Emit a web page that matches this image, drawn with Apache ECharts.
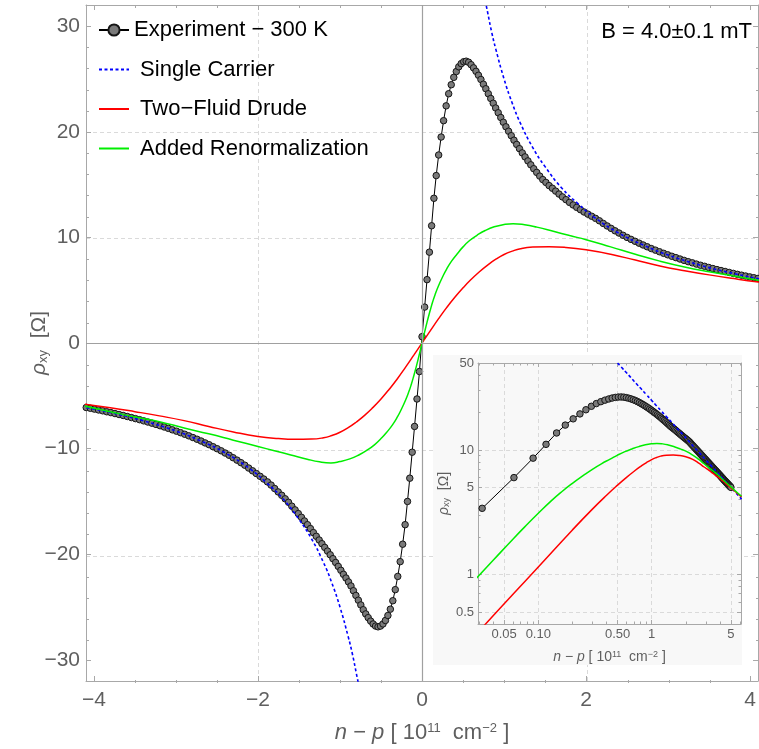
<!DOCTYPE html>
<html>
<head>
<meta charset="utf-8">
<script src="https://cdn.jsdelivr.net/npm/echarts@6/dist/echarts.min.js"></script>
<style>
  html, body { margin: 0; padding: 0; background: #ffffff; }
  #chart { width: 759px; height: 749px; }
</style>
</head>
<body>
<div id="chart"></div>
<script>
// ---- Measured Hall resistivity, 300 K (n - p in 1e11 cm^-2, rho_xy in Ohm) ----
const expPosX = [
  0.000, 0.032, 0.061, 0.090, 0.117, 0.145, 0.173, 0.203, 0.233, 0.263,
  0.294, 0.325, 0.356, 0.387, 0.418, 0.448, 0.478, 0.508, 0.538, 0.568,
  0.598, 0.628, 0.658, 0.688, 0.718, 0.748, 0.778, 0.808, 0.838, 0.868,
  0.898, 0.929, 0.960, 0.991, 1.023, 1.055, 1.088, 1.121, 1.154, 1.188,
  1.222, 1.256, 1.291, 1.326, 1.362, 1.398, 1.435, 1.472, 1.510, 1.549,
  1.589, 1.629, 1.670, 1.712, 1.755, 1.798, 1.842, 1.886, 1.931, 1.976,
  2.022, 2.068, 2.115, 2.162, 2.209, 2.257, 2.305, 2.353, 2.401, 2.450,
  2.499, 2.548, 2.597, 2.646, 2.695, 2.745, 2.795, 2.845, 2.895, 2.945,
  2.995, 3.045, 3.095, 3.145, 3.195, 3.245, 3.295, 3.345, 3.395, 3.445,
  3.495, 3.545, 3.595, 3.645, 3.695, 3.745, 3.795, 3.845, 3.895, 3.945,
  3.995, 4.045, 4.095, 4.145, 4.195, 4.245, 4.295, 4.345, 4.395, 4.445,
  4.495, 4.545, 4.595, 4.645, 4.695, 4.745, 4.795, 4.845, 4.895, 4.945,
  4.995
];
const expPosY = [
  0.6, 3.4, 6.0, 8.6, 11.1, 13.7, 15.85, 17.8, 19.5, 21.05,
  22.45, 23.6, 24.45, 25.15, 25.7, 26.15, 26.45, 26.63, 26.68, 26.58,
  26.35, 26.05, 25.72, 25.35, 24.95, 24.5, 24.07, 23.6, 23.15, 22.7,
  22.25, 21.8, 21.35, 20.9, 20.47, 20.05, 19.63, 19.2, 18.8, 18.4,
  18.0, 17.62, 17.24, 16.87, 16.5, 16.15, 15.8, 15.47, 15.2, 14.9,
  14.65, 14.38, 14.1, 13.83, 13.57, 13.31, 13.07, 12.84, 12.62, 12.4,
  12.2, 12.0, 11.8, 11.57, 11.32, 11.08, 10.85, 10.62, 10.41, 10.2,
  10.0, 9.81, 9.63, 9.45, 9.28, 9.11, 8.94, 8.79, 8.64, 8.49,
  8.35, 8.21, 8.08, 7.95, 7.82, 7.70, 7.59, 7.47, 7.36, 7.26,
  7.15, 7.05, 6.95, 6.86, 6.77, 6.68, 6.59, 6.50, 6.42, 6.34,
  6.26, 6.18, 6.11, 6.03, 5.96, 5.89, 5.82, 5.75, 5.69, 5.62,
  5.56, 5.50, 5.44, 5.38, 5.32, 5.27, 5.21, 5.16, 5.11, 5.06,
  5.01
];
const expNegX = [
  -0.031, -0.061, -0.091, -0.120, -0.149, -0.177, -0.206, -0.236, -0.266, -0.296,
  -0.326, -0.356, -0.386, -0.416, -0.446, -0.476, -0.506, -0.536, -0.566, -0.596,
  -0.626, -0.656, -0.686, -0.716, -0.746, -0.776, -0.806, -0.836, -0.866, -0.896,
  -0.927, -0.958, -0.989, -1.021, -1.053, -1.086, -1.119, -1.152, -1.186, -1.220,
  -1.254, -1.289, -1.324, -1.360, -1.396, -1.433, -1.470, -1.508, -1.547, -1.587,
  -1.627, -1.668, -1.710, -1.753, -1.796, -1.840, -1.884, -1.929, -1.974, -2.020,
  -2.066, -2.113, -2.160, -2.207, -2.255, -2.303, -2.351, -2.399, -2.448, -2.497,
  -2.546, -2.595, -2.644, -2.693, -2.743, -2.793, -2.843, -2.893, -2.943, -2.993,
  -3.043, -3.093, -3.143, -3.193, -3.243, -3.293, -3.343, -3.393, -3.443, -3.493,
  -3.543, -3.593, -3.643, -3.693, -3.743, -3.793, -3.843, -3.893, -3.943, -3.993,
  -4.043, -4.093, -4.143
];
const expNegY = [
  -2.7, -5.3, -7.9, -10.34, -12.8, -15.0, -17.2, -19.05, -20.7, -22.1,
  -23.35, -24.4, -25.2, -25.8, -26.27, -26.6, -26.8, -26.87, -26.8, -26.6,
  -26.33, -26.0, -25.65, -25.25, -24.8, -24.35, -23.9, -23.45, -23.0, -22.62,
  -22.25, -21.9, -21.52, -21.15, -20.78, -20.42, -20.05, -19.7, -19.35, -19.0,
  -18.65, -18.3, -17.95, -17.57, -17.2, -16.85, -16.5, -16.15, -15.8, -15.45,
  -15.08, -14.75, -14.42, -14.1, -13.78, -13.45, -13.15, -12.88, -12.62, -12.36,
  -12.1, -11.84, -11.57, -11.33, -11.09, -10.86, -10.63, -10.42, -10.21, -10.01,
  -9.82, -9.63, -9.46, -9.28, -9.11, -8.95, -8.79, -8.64, -8.49, -8.35,
  -8.22, -8.08, -7.95, -7.83, -7.71, -7.59, -7.48, -7.37, -7.26, -7.16,
  -7.06, -6.96, -6.86, -6.77, -6.68, -6.59, -6.51, -6.42, -6.34, -6.26,
  -6.18, -6.11, -6.03
];

// ---- Single-carrier model ----
const singlePosX = [0.50, 0.55, 0.60, 0.65, 0.70, 0.75, 0.80, 0.85, 0.90, 1.00, 1.10, 1.20, 1.35, 1.50, 1.70, 1.90, 2.10, 2.40, 2.70, 3.00, 3.40, 3.80, 4.20, 4.70, 5.30, 6.20];
const singlePosY = [50.0, 45.5, 41.7, 38.5, 35.7, 33.3, 31.3, 29.4, 27.8, 25.0, 22.7, 20.8, 18.5, 16.7, 14.7, 13.2, 11.9, 10.4, 9.26, 8.33, 7.35, 6.58, 5.95, 5.32, 4.72, 4.03];
const singleNegX = [-0.70, -0.75, -0.80, -0.85, -0.90, -1.00, -1.10, -1.20, -1.35, -1.50, -1.70, -1.90, -2.10, -2.40, -2.70, -3.00, -3.40, -3.80, -4.20];
const singleNegY = [-35.7, -33.3, -31.3, -29.4, -27.8, -25.0, -22.7, -20.8, -18.5, -16.7, -14.7, -13.2, -11.9, -10.4, -9.26, -8.33, -7.35, -6.58, -5.95];

// ---- Two-fluid Drude model ----
const drudePosX = [0.02, 0.03, 0.10, 0.20, 0.30, 0.40, 0.50, 0.60, 0.70, 0.80, 0.90, 1.00, 1.10, 1.20, 1.35, 1.55, 1.75, 2.00, 2.30, 2.60, 2.90, 3.20, 3.50, 3.80, 4.10, 4.50, 5.00, 5.60, 6.20];
const drudePosY = [0.23, 0.35, 1.15, 2.28, 3.35, 4.33, 5.22, 6.03, 6.75, 7.38, 7.93, 8.38, 8.70, 8.93, 9.08, 9.12, 9.05, 8.82, 8.40, 7.85, 7.30, 6.85, 6.45, 6.10, 5.78, 5.40, 4.95, 4.55, 4.20];
const drudeNegX = [-0.03, -0.10, -0.20, -0.30, -0.40, -0.50, -0.60, -0.70, -0.80, -0.90, -1.00, -1.10, -1.20, -1.35, -1.55, -1.75, -2.00, -2.30, -2.60, -2.90, -3.20, -3.50, -3.80, -4.20];
const drudeNegY = [-0.35, -1.15, -2.28, -3.38, -4.38, -5.30, -6.12, -6.85, -7.48, -8.02, -8.45, -8.76, -8.97, -9.10, -9.12, -9.05, -8.85, -8.42, -7.90, -7.35, -6.90, -6.50, -6.13, -5.70];

// ---- Drude model with renormalization ----
const renormPosX = [0.02, 0.04, 0.06, 0.08, 0.10, 0.13, 0.16, 0.20, 0.25, 0.30, 0.36, 0.43, 0.50, 0.58, 0.67, 0.77, 0.88, 1.00, 1.11, 1.25, 1.40, 1.60, 1.80, 2.00, 2.30, 2.60, 2.90, 3.20, 3.50, 3.80, 4.10, 4.50, 5.00, 5.60, 6.20];
const renormPosY = [0.66, 1.30, 1.93, 2.53, 3.10, 3.90, 4.60, 5.40, 6.25, 7.00, 7.75, 8.45, 9.10, 9.70, 10.20, 10.65, 11.00, 11.22, 11.30, 11.20, 10.97, 10.58, 10.17, 9.78, 9.10, 8.40, 7.75, 7.20, 6.75, 6.35, 5.95, 5.50, 5.05, 4.60, 4.25];
const renormNegX = [-0.02, -0.04, -0.06, -0.08, -0.10, -0.13, -0.16, -0.20, -0.25, -0.30, -0.36, -0.43, -0.50, -0.58, -0.67, -0.77, -0.88, -1.00, -1.11, -1.25, -1.40, -1.60, -1.80, -2.00, -2.30, -2.60, -2.90, -3.20, -3.50, -3.80, -4.20];
const renormNegY = [-0.66, -1.30, -1.93, -2.53, -3.10, -3.90, -4.60, -5.40, -6.25, -7.00, -7.75, -8.45, -9.05, -9.65, -10.15, -10.60, -10.97, -11.22, -11.35, -11.25, -11.00, -10.60, -10.20, -9.80, -9.20, -8.60, -8.05, -7.45, -7.00, -6.50, -5.82];

// ---- Tick marks and labels ----
const mainXMajor = [-4, -2, 0, 2, 4];
const mainXMinor = [-3.5, -3, -2.5, -1.5, -1, -0.5, 0.5, 1, 1.5, 2.5, 3, 3.5];
const mainYMajor = [-30, -20, -10, 0, 10, 20, 30];
const mainYMinor = [-28, -26, -24, -22, -18, -16, -14, -12, -8, -6, -4, -2, 2, 4, 6, 8, 12, 14, 16, 18, 22, 24, 26, 28];
const mainXGrid = [-2, 2];
const mainYGrid = [-20, -10, 10, 20];

const insetXMajor = [0.05, 0.1, 0.5, 1, 5];
const insetXMajorText = ['0.05', '0.10', '0.50', '1', '5'];
const insetXMinor = [0.03, 0.04, 0.06, 0.07, 0.08, 0.09, 0.2, 0.3, 0.4, 0.6, 0.7, 0.8, 0.9, 2, 3, 4, 6];
const insetYMajor = [0.5, 1, 5, 10, 50];
const insetYMajorText = ['0.5', '1', '5', '10', '50'];
const insetYMinor = [0.6, 0.7, 0.8, 0.9, 2, 3, 4, 6, 7, 8, 9, 20, 30, 40];

const NAMES = ['Experiment \u2212 300 K', 'Single Carrier', 'Two\u2212Fluid Drude', 'Added Renormalization'];

// ---- Helpers ----
const FONT = '"Liberation Sans", Arial, Helvetica, sans-serif';
const GRAY = '#5f5f5f';
const FRAME = '#a8a8a8';
const GRIDLINE = '#dadada';

const pairs = (xs, ys) => xs.map((x, i) => [x, ys[i]]);
const log10 = Math.log10;
const logPairs = (xs, ys) => xs.map((x, i) => [x, ys[i]]).filter(p => p[0] > 0 && p[1] > 0).map(p => [log10(p[0]), log10(p[1])]);
const signed = v => (v < 0 ? '\u2212' + Math.abs(v) : String(v));
const lookup = (vals, texts) => v => {
  const i = vals.findIndex(t => Math.abs(log10(t) - v) < 1e-6);
  return i >= 0 ? texts[i] : '';
};

function axis(o) {
  const a = {
    type: 'value',
    gridIndex: o.grid,
    position: o.pos,
    min: o.min,
    max: o.max,
    z: o.z || 0,
    axisLine: { show: !!o.line, onZero: false, lineStyle: { color: FRAME, width: 1 } },
    axisTick: {
      show: !!o.ticks,
      inside: true,
      length: o.tickLen || 5,
      customValues: o.ticks || o.split,
      lineStyle: { color: FRAME, width: 1 }
    },
    axisLabel: o.labels
      ? { show: true, customValues: o.labels, formatter: o.fmt, fontSize: o.fs, color: GRAY, fontFamily: FONT, margin: o.margin }
      : { show: false },
    splitLine: o.split
      ? { show: true, lineStyle: { color: GRIDLINE, width: 1, type: [4, 3] } }
      : { show: false },
    minorTick: { show: false },
    minorSplitLine: { show: false }
  };
  if (o.name) {
    a.name = o.name;
    a.nameLocation = 'middle';
    a.nameGap = o.nameGap;
    a.nameMoveOverlap = false;
    if (o.nameRotate) a.nameRotate = o.nameRotate;
    a.nameTextStyle = o.nameStyle;
  }
  return a;
}

function titleStyle(size, supSize, supAlign) {
  return {
    fontSize: size, color: GRAY, fontFamily: FONT,
    rich: {
      i: { fontSize: size, fontStyle: 'italic', color: GRAY, fontFamily: FONT },
      t: { fontSize: size, color: GRAY, fontFamily: FONT },
      s: { fontSize: supSize, color: GRAY, fontFamily: FONT, verticalAlign: supAlign, lineHeight: supSize }
    }
  };
}

// ---- Layout of the two plots ----
const MAIN = { left: 86, top: 5, width: 680, height: 678 };
const MAIN_X = [-4.096, 4.096];
const MAIN_Y = [-32, 32];
const INSET = { left: 478, top: 363, width: 263, height: 261 };
const INSET_X = [log10(0.0294), log10(6.13)];
const INSET_Y = [log10(0.40), log10(50)];

const xTitle = '{i|n}{t| \u2212 }{i|p}{t| [ 10}{s|11}{t|  cm}{s|\u22122}{t| ]}';
const yTitle = '{i|\u03c1}{s|xy}{t|  [\u03a9]}';

const xAxes = [
  // main frame
  axis({ grid: 0, pos: 'bottom', min: MAIN_X[0], max: MAIN_X[1], line: true, ticks: mainXMajor, tickLen: 5,
         labels: mainXMajor, fmt: signed, fs: 21, margin: 9,
         name: xTitle, nameGap: 41, nameStyle: titleStyle(22, 13, 'top') }),
  axis({ grid: 0, pos: 'top', min: MAIN_X[0], max: MAIN_X[1], line: true, ticks: mainXMajor, tickLen: 5 }),
  // main minor ticks
  axis({ grid: 1, pos: 'bottom', min: MAIN_X[0], max: MAIN_X[1], ticks: mainXMinor, tickLen: 3 }),
  axis({ grid: 1, pos: 'top', min: MAIN_X[0], max: MAIN_X[1], ticks: mainXMinor, tickLen: 3 }),
  // main grid lines
  axis({ grid: 2, pos: 'bottom', min: MAIN_X[0], max: MAIN_X[1], split: mainXGrid }),
  // inset frame
  axis({ grid: 3, pos: 'bottom', min: INSET_X[0], max: INSET_X[1], line: true, z: 11,
         ticks: insetXMajor.map(log10), split: insetXMajor.map(log10), tickLen: 4,
         labels: insetXMajor.map(log10), fmt: lookup(insetXMajor, insetXMajorText), fs: 13, margin: 4,
         name: xTitle, nameGap: 26, nameStyle: titleStyle(14, 9, 'top') }),
  axis({ grid: 3, pos: 'top', min: INSET_X[0], max: INSET_X[1], line: true, z: 11, ticks: insetXMajor.map(log10), tickLen: 4 }),
  // inset minor ticks
  axis({ grid: 4, pos: 'bottom', min: INSET_X[0], max: INSET_X[1], z: 11, ticks: insetXMinor.map(log10), tickLen: 2.5 }),
  axis({ grid: 4, pos: 'top', min: INSET_X[0], max: INSET_X[1], z: 11, ticks: insetXMinor.map(log10), tickLen: 2.5 })
];

const yAxes = [
  axis({ grid: 0, pos: 'left', min: MAIN_Y[0], max: MAIN_Y[1], line: true, ticks: mainYMajor, tickLen: 5,
         labels: mainYMajor, fmt: signed, fs: 21, margin: 6,
         name: yTitle, nameGap: 36, nameRotate: 90, nameStyle: titleStyle(21, 13, 'bottom') }),
  axis({ grid: 0, pos: 'right', min: MAIN_Y[0], max: MAIN_Y[1], line: true, ticks: mainYMajor, tickLen: 5 }),
  axis({ grid: 1, pos: 'left', min: MAIN_Y[0], max: MAIN_Y[1], ticks: mainYMinor, tickLen: 3 }),
  axis({ grid: 1, pos: 'right', min: MAIN_Y[0], max: MAIN_Y[1], ticks: mainYMinor, tickLen: 3 }),
  axis({ grid: 2, pos: 'left', min: MAIN_Y[0], max: MAIN_Y[1], split: mainYGrid }),
  axis({ grid: 3, pos: 'left', min: INSET_Y[0], max: INSET_Y[1], line: true, z: 11,
         ticks: insetYMajor.map(log10), split: insetYMajor.map(log10), tickLen: 4,
         labels: insetYMajor.map(log10), fmt: lookup(insetYMajor, insetYMajorText), fs: 13, margin: 4,
         name: yTitle, nameGap: 27, nameRotate: 90, nameStyle: titleStyle(14, 9, 'bottom') }),
  axis({ grid: 3, pos: 'right', min: INSET_Y[0], max: INSET_Y[1], line: true, z: 11, ticks: insetYMajor.map(log10), tickLen: 4 }),
  axis({ grid: 4, pos: 'left', min: INSET_Y[0], max: INSET_Y[1], z: 11, ticks: insetYMinor.map(log10), tickLen: 2.5 }),
  axis({ grid: 4, pos: 'right', min: INSET_Y[0], max: INSET_Y[1], z: 11, ticks: insetYMinor.map(log10), tickLen: 2.5 })
];

// ---- Series ----
const EXP_STYLE = {
  symbol: 'circle', symbolSize: 6.5, showSymbol: true,
  lineStyle: { color: '#000000', width: 1 },
  itemStyle: { color: '#7a7a7a', borderColor: '#151515', borderWidth: 1 }
};
const BLUE = { color: '#0000ff', width: 1.6, type: [3, 2.5] };
const RED = { color: '#ff0000', width: 1.5 };
const GREEN = { color: '#00ee00', width: 1.5 };

function curve(name, data, style, xi, yi, z) {
  return {
    type: 'line', name, data, xAxisIndex: xi, yAxisIndex: yi, z,
    smooth: true, symbol: 'none', lineStyle: style, itemStyle: { color: style.color },
    emphasis: { disabled: true }, silent: true
  };
}

const mainExp = pairs(expNegX, expNegY).reverse().concat(pairs(expPosX, expPosY));
const mainRed = pairs(drudeNegX, drudeNegY).reverse().concat([[0, 0]], pairs(drudePosX, drudePosY));
const mainGreen = pairs(renormNegX, renormNegY).reverse().concat([[0, 0]], pairs(renormPosX, renormPosY));

const series = [
  // axes through the origin
  {
    type: 'line', name: 'origin', data: [], xAxisIndex: 0, yAxisIndex: 0, z: 1, silent: true,
    markLine: {
      silent: true, symbol: ['none', 'none'], label: { show: false }, animation: false,
      lineStyle: { color: '#a0a0a0', width: 1.2, type: 'solid' },
      emphasis: { disabled: true },
      data: [{ xAxis: 0 }, { yAxis: 0 }]
    }
  },
  Object.assign({ type: 'line', name: NAMES[0], data: mainExp, xAxisIndex: 0, yAxisIndex: 0, z: 3,
                  emphasis: { disabled: true }, silent: true }, EXP_STYLE),
  curve(NAMES[1], pairs(singleNegX, singleNegY), BLUE, 0, 0, 4),
  curve(NAMES[1], pairs(singlePosX, singlePosY), BLUE, 0, 0, 4),
  curve(NAMES[2], mainRed, RED, 0, 0, 4),
  curve(NAMES[3], mainGreen, GREEN, 0, 0, 4),
  // inset (log-log, positive branch)
  Object.assign({ type: 'line', name: NAMES[0], data: logPairs(expPosX, expPosY), xAxisIndex: 5, yAxisIndex: 5, z: 12,
                  emphasis: { disabled: true }, silent: true }, EXP_STYLE),
  curve(NAMES[1], logPairs(singlePosX, singlePosY), BLUE, 5, 5, 13),
  curve(NAMES[2], logPairs(drudePosX, drudePosY), RED, 5, 5, 13),
  curve(NAMES[3], logPairs(renormPosX, renormPosY), GREEN, 5, 5, 13)
];

const chart = echarts.init(document.getElementById('chart'), null, { renderer: 'canvas' });
chart.setOption({
  animation: false,
  backgroundColor: '#ffffff',
  textStyle: { fontFamily: FONT },
  title: {
    text: 'B = 4.0\u00b10.1 mT', right: 2, top: 16,
    textStyle: { fontSize: 22, fontWeight: 'normal', color: '#000000', fontFamily: FONT }
  },
  legend: {
    data: [
      { name: NAMES[0] },
      { name: NAMES[1], itemStyle: { opacity: 0 } },
      { name: NAMES[2], itemStyle: { opacity: 0 } },
      { name: NAMES[3], itemStyle: { opacity: 0 } }
    ],
    orient: 'vertical', left: 93, top: 14, itemGap: 17.5,
    itemWidth: 30, itemHeight: 14, selectedMode: false,
    formatter: n => (n === NAMES[0] ? n : ' ' + n),
    textStyle: { fontSize: 22, color: '#000000', fontFamily: FONT }
  },
  graphic: {
    elements: [{
      type: 'rect', z: 10, silent: true,
      shape: { x: 433, y: 355, width: 309, height: 310 },
      style: { fill: '#f8f8f8' }
    }]
  },
  grid: [
    Object.assign({ containLabel: false }, MAIN),
    Object.assign({ containLabel: false }, MAIN),
    Object.assign({ containLabel: false }, MAIN),
    Object.assign({ containLabel: false, z: 11 }, INSET),
    Object.assign({ containLabel: false, z: 11 }, INSET)
  ],
  xAxis: xAxes,
  yAxis: yAxes,
  series
});
</script>
</body>
</html>
